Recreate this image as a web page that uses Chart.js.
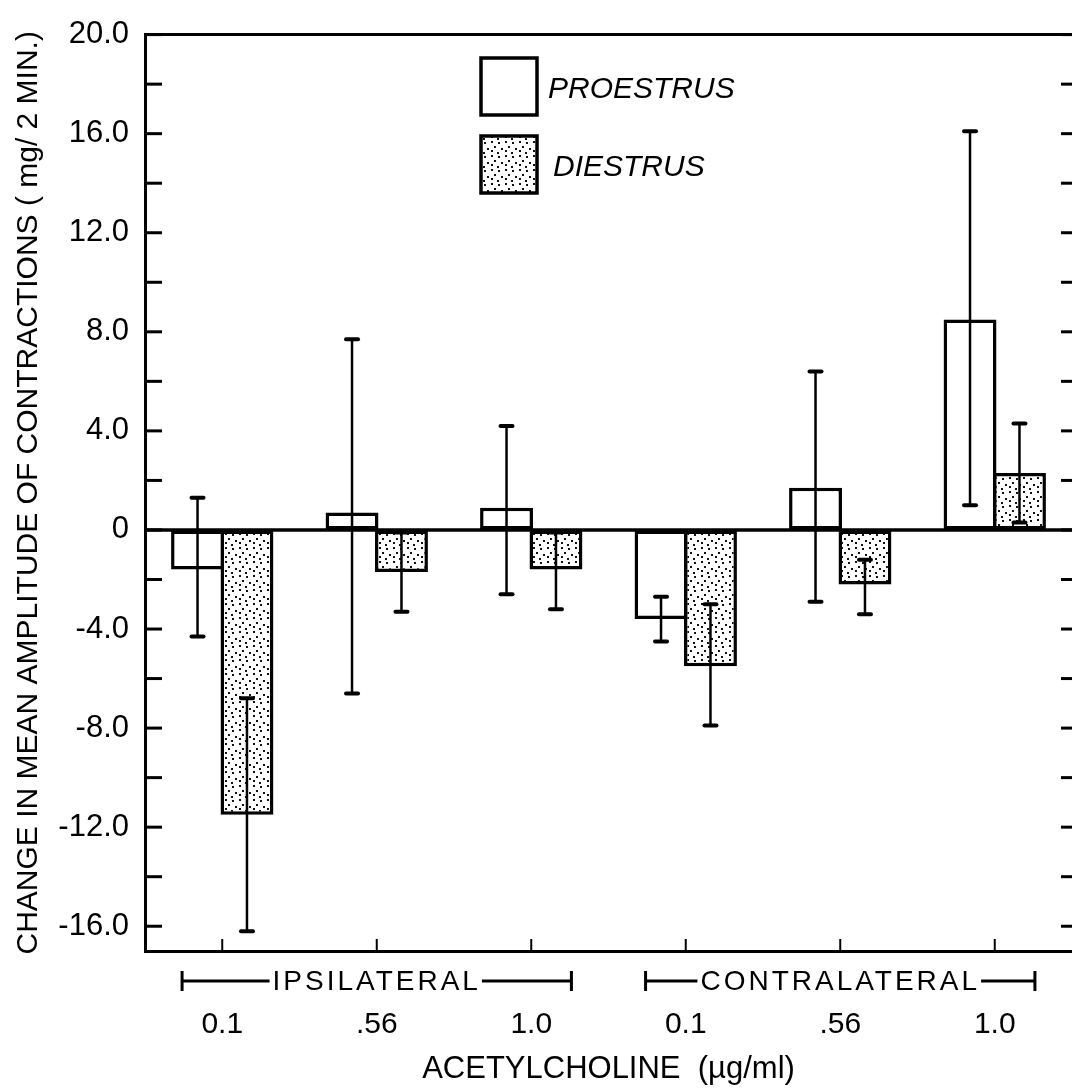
<!DOCTYPE html>
<html>
<head>
<meta charset="utf-8">
<script src="https://cdn.jsdelivr.net/npm/chart.js@4.4.1/dist/chart.umd.min.js"></script>
<style>
  html, body { margin: 0; padding: 0; background: #fff; }
</style>
</head>
<body>
<canvas id="c" width="1072" height="1090"></canvas>
<script>
// values
const doses = ['0.1', '.56', '1.0', '0.1', '.56', '1.0'];
const sides = ['IPSILATERAL', 'CONTRALATERAL'];
const sideOf = [0, 0, 0, 1, 1, 1];
const proestrus   = [-1.6, 0.7, 0.9, -3.6, 1.7, 8.5];
const proestrusHi = [1.3, 7.7, 4.2, -2.7, 6.4, 16.1];
const proestrusLo = [-4.3, -6.6, -2.6, -4.5, -2.9, 1.0];
const diestrus    = [-11.5, -1.7, -1.6, -5.5, -2.2, 2.3];
const diestrusHi  = [-6.8, -0.1, -0.1, -3.0, -1.2, 4.3];
const diestrusLo  = [-16.2, -3.3, -3.2, -7.9, -3.4, 0.3];
const yTicks = [-16, -14, -12, -10, -8, -6, -4, -2, 0, 2, 4, 6, 8, 10, 12, 14, 16, 18, 20];

const FONT = "'Liberation Sans', Arial, sans-serif";
Chart.defaults.font.family = FONT;
Chart.defaults.color = '#000';

const canvas = document.getElementById('c');
const ctx = canvas.getContext('2d');

// stipple fill for the diestrus bars
function stipple() {
  const t = document.createElement('canvas');
  t.width = 14; t.height = 14;
  const g = t.getContext('2d');
  g.fillStyle = '#fff';
  g.fillRect(0, 0, 14, 14);
  g.fillStyle = '#111';
  [[1, 1], [8, 2], [4, 6], [11, 8], [1, 10], [7, 12]].forEach(([x, y]) => g.fillRect(x, y, 2, 2));
  return ctx.createPattern(t, 'repeat');
}
const dots = stipple();

function line(c, x1, y1, x2, y2, w) {
  c.lineWidth = w;
  c.beginPath();
  c.moveTo(x1, y1);
  c.lineTo(x2, y2);
  c.stroke();
}

const frame = {
  id: 'frame',
  afterDatasetsDraw(chart) {
    const c = chart.ctx, a = chart.chartArea, y = chart.scales.y;
    c.save();
    c.strokeStyle = '#000';
    // zero line
    line(c, a.left, y.getPixelForValue(0), a.right, y.getPixelForValue(0), 3.5);
    // error bars
    chart.data.datasets.forEach((ds, i) => {
      chart.getDatasetMeta(i).data.forEach((bar, j) => {
        const top = y.getPixelForValue(ds.hi[j]);
        const bot = y.getPixelForValue(ds.lo[j]);
        c.lineCap = 'butt';
        line(c, bar.x, top, bar.x, bot, 2.5);
        c.lineCap = 'round';
        line(c, bar.x - 6, top, bar.x + 6, top, 4);
        line(c, bar.x - 6, bot, bar.x + 6, bot, 4);
      });
    });
    c.restore();
  },
  afterDraw(chart) {
    const c = chart.ctx, a = chart.chartArea, y = chart.scales.y, x = chart.scales.x;
    c.save();
    c.strokeStyle = '#000';
    c.fillStyle = '#000';
    c.lineCap = 'butt';
    // top frame line
    line(c, a.left - 1, a.top, chart.width, a.top, 3);
    // inward ticks, left and right
    yTicks.forEach(v => {
      const py = y.getPixelForValue(v);
      line(c, a.left, py, a.left + 17, py, 3);
      line(c, chart.width - 11, py, chart.width, py, 3);
    });
    // category ticks on the bottom axis
    doses.forEach((d, i) => {
      const px = x.getPixelForValue(i);
      line(c, px, a.bottom, px, a.bottom - 12, 2);
    });
    // group brackets
    const w = x.getPixelForValue(1) - x.getPixelForValue(0);
    const by = a.bottom + 30;
    c.font = '28px ' + FONT;
    c.letterSpacing = '3px';
    c.textBaseline = 'middle';
    sides.forEach((name, s) => {
      const idx = sideOf.map((v, i) => v === s ? i : -1).filter(i => i >= 0);
      const x0 = x.getPixelForValue(idx[0]) - 0.26 * w;
      const x1 = x.getPixelForValue(idx[idx.length - 1]) + 0.26 * w;
      const tw = c.measureText(name).width;
      const mid = (x0 + x1) / 2;
      line(c, x0, by - 10, x0, by + 10, 3);
      line(c, x1, by - 10, x1, by + 10, 3);
      line(c, x0, by, mid - tw / 2 - 3, by, 3);
      line(c, mid + tw / 2 + 1, by, x1, by, 3);
      c.textAlign = 'left';
      c.fillText(name, mid - tw / 2, by + 1);
    });
    c.letterSpacing = '0px';
    // legend
    c.font = 'italic 30px ' + FONT;
    c.textAlign = 'left';
    chart.data.datasets.forEach((ds, i) => {
      const lx = 481, ly = 58 + i * 78;
      c.fillStyle = ds.backgroundColor;
      c.fillRect(lx, ly, 56, 57);
      c.lineWidth = 3.5;
      c.strokeRect(lx, ly, 56, 57);
      c.fillStyle = '#000';
      c.fillText(ds.label, lx + 67 + i * 5, ly + 32);
    });
    c.restore();
  }
};

new Chart(ctx, {
  type: 'bar',
  data: {
    labels: doses,
    datasets: [
      {
        label: 'PROESTRUS',
        data: proestrus,
        hi: proestrusHi,
        lo: proestrusLo,
        backgroundColor: '#fff',
        borderColor: '#000',
        borderWidth: 3.5,
        borderSkipped: false
      },
      {
        label: 'DIESTRUS',
        data: diestrus,
        hi: diestrusHi,
        lo: diestrusLo,
        backgroundColor: dots,
        borderColor: '#000',
        borderWidth: 3.5,
        borderSkipped: false
      }
    ]
  },
  options: {
    responsive: false,
    animation: false,
    layout: { padding: { top: 25, right: 0, left: 0, bottom: 0 } },
    categoryPercentage: 0.64,
    barPercentage: 1.07,
    plugins: {
      legend: { display: false },
      tooltip: { enabled: false }
    },
    scales: {
      x: {
        type: 'category',
        offset: true,
        grid: { display: true, drawOnChartArea: false, drawTicks: false },
        border: { display: true, color: '#000', width: 3 },
        ticks: { font: { size: 30 }, padding: 56, maxRotation: 0, autoSkip: false },
        title: {
          display: true,
          text: 'ACETYLCHOLINE  (µg/ml)',
          font: { size: 31 },
          padding: { top: 0, bottom: 2 }
        },
        afterFit(s) { s.height = 139; }
      },
      y: {
        min: -17,
        max: 20,
        afterBuildTicks(s) { s.ticks = yTicks.map(v => ({ value: v })); },
        grid: { display: true, drawOnChartArea: false, drawTicks: false },
        border: { display: true, color: '#000', width: 3 },
        ticks: {
          font: { size: 31 },
          padding: 16,
          callback: v => v % 4 !== 0 ? '' : (v === 0 ? '0' : v.toFixed(1))
        },
        title: {
          display: true,
          text: 'CHANGE IN MEAN AMPLITUDE OF CONTRACTIONS ( mg/ 2 MIN.)',
          font: { size: 30 },
          padding: { top: 11, bottom: 0 }
        },
        afterFit(s) { s.width = 145; }
      }
    }
  },
  plugins: [frame]
});
</script>
</body>
</html>
